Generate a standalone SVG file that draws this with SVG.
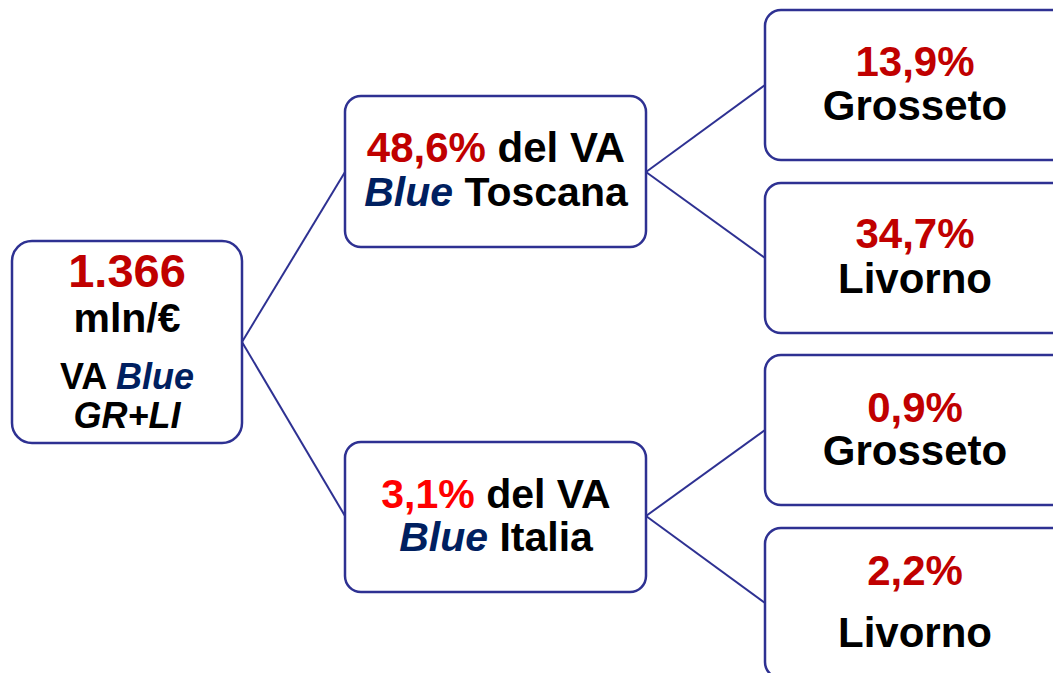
<svg xmlns="http://www.w3.org/2000/svg" width="1053" height="673" viewBox="0 0 1053 673">
<style>
.box{fill:#fff;stroke:#2E3192;stroke-width:2.5}
.ln{stroke:#2E3192;stroke-width:2;fill:none}
text{font-family:"Liberation Sans",Arial,sans-serif;font-weight:bold;text-anchor:middle;fill:#000}
.r{fill:#C00000}
.rb{fill:#FF0000}
.b{fill:#002060;font-style:italic}
.i{font-style:italic}
</style>
<rect width="1053" height="673" fill="#fff"/>
<g id="connectors">
<line class="ln" x1="242" y1="342" x2="345" y2="172"/>
<line class="ln" x1="242" y1="342" x2="345" y2="516"/>
<line class="ln" x1="646" y1="172" x2="765" y2="85"/>
<line class="ln" x1="646" y1="172" x2="765" y2="258"/>
<line class="ln" x1="646" y1="516" x2="765" y2="430"/>
<line class="ln" x1="646" y1="516" x2="765" y2="603"/>
</g>
<g id="root">
<rect class="box" x="12" y="241" width="230" height="202" rx="20"/>
<text x="127" y="287" font-size="47" class="r">1.366</text>
<text x="127" y="332" font-size="41">mln/€</text>
<text x="127" y="389" font-size="36">VA <tspan class="b">Blue</tspan></text>
<text x="127" y="428" font-size="36" class="i">GR+LI</text>
</g>
<g id="toscana">
<rect class="box" x="345" y="96" width="301" height="151" rx="16"/>
<text x="496" y="162" font-size="42"><tspan class="r">48,6%</tspan> del VA</text>
<text x="496" y="206" font-size="41"><tspan class="b">Blue</tspan> Toscana</text>
</g>
<g id="italia">
<rect class="box" x="345" y="442" width="301" height="150" rx="16"/>
<text x="496" y="508" font-size="41"><tspan class="rb">3,1%</tspan> del VA</text>
<text x="496" y="551" font-size="41"><tspan class="b">Blue</tspan> Italia</text>
</g>
<g id="tos-grosseto">
<rect class="box" x="765" y="10" width="310" height="150" rx="16"/>
<text x="915" y="76" font-size="42" class="r">13,9%</text>
<text x="915" y="120" font-size="42">Grosseto</text>
</g>
<g id="tos-livorno">
<rect class="box" x="765" y="183" width="310" height="150" rx="16"/>
<text x="915" y="248" font-size="42" class="r">34,7%</text>
<text x="915" y="293" font-size="42">Livorno</text>
</g>
<g id="ita-grosseto">
<rect class="box" x="765" y="355" width="310" height="150" rx="16"/>
<text x="915" y="422" font-size="42" class="r">0,9%</text>
<text x="915" y="465" font-size="42">Grosseto</text>
</g>
<g id="ita-livorno">
<rect class="box" x="765" y="528" width="310" height="150" rx="16"/>
<text x="915" y="585" font-size="42" class="r">2,2%</text>
<text x="915" y="647" font-size="42">Livorno</text>
</g>
</svg>
